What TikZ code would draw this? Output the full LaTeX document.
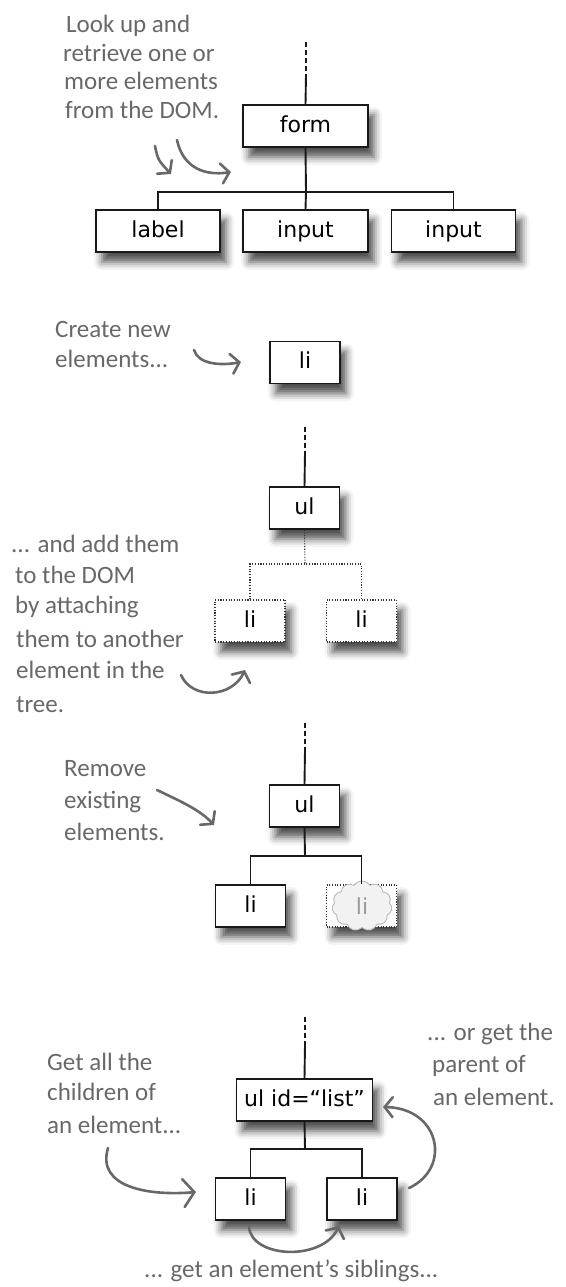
\documentclass[tikz,border=0pt]{standalone}
\usepackage{fontspec}
\newfontfamily\boxfont{DejaVu Sans}
\newfontfamily\handfont{Carlito}
\usetikzlibrary{arrows.meta,shadows.blur,shapes.symbols}
\definecolor{handgray}{HTML}{686868}
\tikzset{
  elem/.style={draw=black!90, line width=1.6pt, fill=white, minimum width=#1,
    minimum height=42pt, inner sep=0pt, text height=16pt, text depth=4pt,
    font=\boxfont\fontsize{22}{26}\selectfont,
    blur shadow={shadow xshift=6pt, shadow yshift=-10pt, shadow blur radius=8pt, shadow opacity=70}},
  elem/.default=70pt,
  ghost/.style={elem=#1, draw=black!80, line width=1.1pt, dash pattern=on 1.1pt off 1.6pt},
  ghost/.default=70pt,
  tree/.style={draw=black!90, line width=1.9pt},
  dotline/.style={draw=black!80, line width=1.1pt, dash pattern=on 1.1pt off 1.6pt},
  dashline/.style={draw=black!90, line width=1.9pt, dash pattern=on 5pt off 3pt},
  hand/.style={font=\handfont\fontsize{25}{30}\selectfont, text=handgray, anchor=base west, inner sep=0pt},
  handarrow/.style={draw=handgray, line width=2.6pt, line cap=round,
    -{Straight Barb[length=8pt, width=20pt, line cap=round]}},
  bigarrow/.style={draw=handgray, line width=2.6pt, line cap=round,
    -{Straight Barb[length=11pt, width=28pt, line cap=round]}},
}
\begin{document}
\begin{tikzpicture}[x=1pt, y=-1pt]
\useasboundingbox (0,0) rectangle (565,1287);

% ---------- section 1: look up ----------
\node[elem=125pt] (form) at (305.5,126) {form};
\node[elem=124pt] (label) at (158,231) {label};
\node[elem=125pt] (inA) at (305.5,231) {input};
\node[elem=124pt] (inB) at (453.5,231) {input};
\coordinate (d1a) at (306,42);
\coordinate (d1b) at (306,75);
\draw[dashline] (d1a) -- (d1b);
\draw[tree] (d1b) -- (form.north);
\coordinate (bar1) at (306,192);
\draw[tree] (form.south) -- (bar1);
\draw[tree] (label.north) |- (bar1) -| (inB.north);
\draw[tree] (bar1) -- (inA.north);

\node[hand] (t1a) at (66,33) {Look up and};
\node[hand] (t1b) at (63,62) {retrieve one or};
\node[hand] (t1c) at (64,90) {more elements};
\node[hand] (t1d) at (65,118) {from the DOM.};
\coordinate (a1s) at (155,146);
\coordinate (a1e) at (171,174);
\draw[handarrow] (a1s) .. controls (158,160) .. (a1e);
\coordinate (a2s) at (177,140);
\coordinate (a2e) at (231,172);
\draw[handarrow] (a2s) .. controls (183,168) and (205,176) .. (a2e);

% ---------- section 2: create ----------
\node[elem] (li2) at (305,362.5) {li};
\node[hand] (t2a) at (55,337) {Create new};
\node[hand] (t2b) at (55,367) {elements...};
\coordinate (a3s) at (194,350);
\coordinate (a3e) at (241,362);
\draw[handarrow] (a3s) .. controls (198,364) and (220,366) .. (a3e);

% ---------- section 3: add ----------
\node[elem] (ul3) at (304.5,508) {ul};
\node[ghost] (li3a) at (250,621) {li};
\node[ghost] (li3b) at (361.5,621) {li};
\coordinate (d3a) at (305,427);
\coordinate (d3b) at (305,453);
\draw[dashline] (d3a) -- (d3b);
\draw[tree] (d3b) -- (ul3.north);
\coordinate (bar3) at (305,564);
\draw[dotline] (ul3.south) -- (bar3);
\draw[dotline] (li3a.north) |- (bar3) -| (li3b.north);

\node[hand] (t3a) at (11,552) {... and add them};
\node[hand] (t3b) at (15,583) {to the DOM};
\node[hand] (t3c) at (15,613) {by attaching};
\node[hand] (t3d) at (16,647) {them to another};
\node[hand] (t3e) at (16,678) {element in the};
\node[hand] (t3f) at (16,712) {tree.};
\coordinate (a4s) at (181,675);
\coordinate (a4e) at (245,670);
\draw[handarrow] (a4s) .. controls (192,700) and (232,698) .. (a4e);

% ---------- section 4: remove ----------
\node[elem] (ul4) at (304.5,806) {ul};
\node[elem] (li4a) at (250.5,906) {li};
\node[ghost] (li4b) at (361.5,906) {};
\node[cloud, cloud puffs=11, cloud puff arc=115, cloud ignores aspect,
      minimum width=60pt, minimum height=50pt, inner sep=0pt, draw=black!28,
      line width=0.9pt, fill=black!5, font=\boxfont\fontsize{22}{26}\selectfont,
      text=black!40]
      (puff) at (362,906) {li};
\coordinate (d4a) at (305,723);
\coordinate (d4b) at (305,750);
\draw[dashline] (d4a) -- (d4b);
\draw[tree] (d4b) -- (ul4.north);
\coordinate (bar4) at (305,856);
\draw[tree] (ul4.south) -- (bar4);
\draw[tree] (li4a.north) |- (bar4) -| (li4b.north);

\node[hand] (t4a) at (64,776) {Remove};
\node[hand] (t4b) at (64,808) {existing};
\node[hand] (t4c) at (64,840) {elements.};
\coordinate (a5s) at (157,790);
\coordinate (a5e) at (214,825);
\draw[handarrow] (a5s) .. controls (182,802) and (200,810) .. (a5e);

% ---------- section 5: navigate ----------
\node[elem=136pt] (list) at (304.5,1100) {ul id=“list”};
\node[elem] (li5a) at (250.5,1199) {li};
\node[elem] (li5b) at (362,1199) {li};
\coordinate (d5a) at (305,1017);
\coordinate (d5b) at (305,1045);
\draw[dashline] (d5a) -- (d5b);
\draw[tree] (d5b) -- (list.north);
\coordinate (bar5) at (305,1149);
\draw[tree] (list.south) -- (bar5);
\draw[tree] (li5a.north) |- (bar5) -| (li5b.north);

\node[hand] (t5a) at (47,1070) {Get all the};
\node[hand] (t5b) at (47,1100) {children of};
\node[hand] (t5c) at (47,1133) {an element...};
\node[hand] (t6a) at (427,1040) {... or get the};
\node[hand] (t6b) at (432,1072) {parent of};
\node[hand] (t6c) at (433,1105) {an element.};
\node[hand] (t7) at (144,1277) {... get an element’s siblings...};

\coordinate (a6s) at (108,1148);
\coordinate (a6e) at (196,1192);
\draw[bigarrow] (a6s) .. controls (96,1188) and (150,1196) .. (a6e);
\coordinate (a7s) at (409,1188);
\coordinate (a7e) at (383,1107);
\draw[handarrow] (a7s) .. controls (452,1168) and (440,1108) .. (a7e);
\coordinate (a8s) at (249,1226);
\coordinate (a8e) at (339,1226);
\draw[handarrow] (a8s) .. controls (250,1258) and (322,1262) .. (a8e);
\end{tikzpicture}
\end{document}
